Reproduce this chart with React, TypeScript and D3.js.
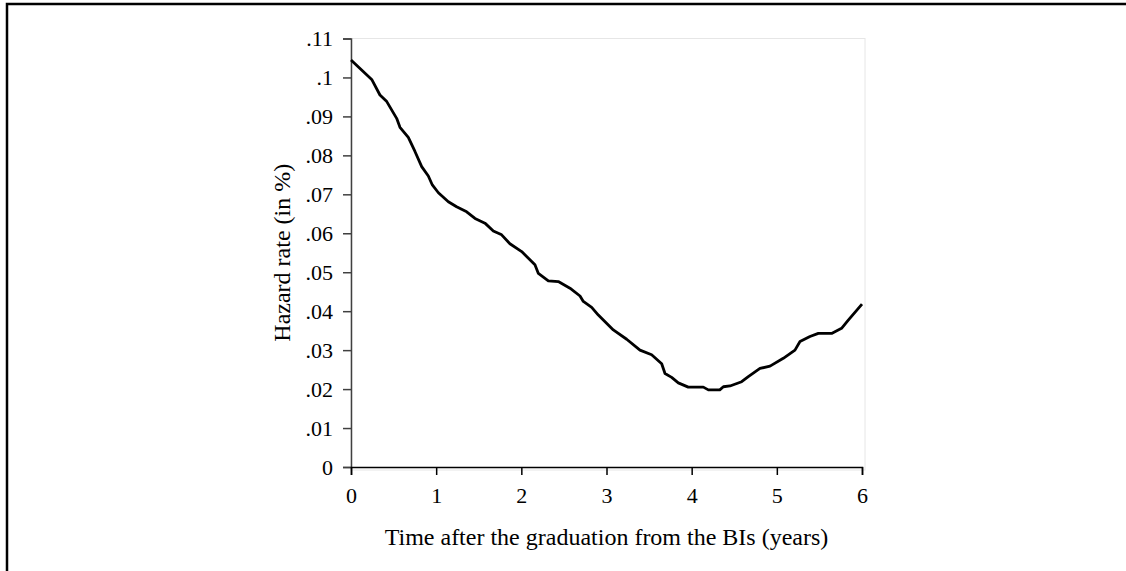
import React, { useRef, useEffect } from "react";
import * as d3 from "d3";

const WIDTH = 1126;
const HEIGHT = 571;
const PLOT = { left: 351, right: 862, top: 38.5, bottom: 467 };

// years after graduation
const TIME_YEARS = [
  0, 0.243, 0.34, 0.42, 0.536, 0.575, 0.673, 0.751, 0.83, 0.908, 0.955, 1.026,
  1.143, 1.24, 1.358, 1.456, 1.573, 1.671, 1.769, 1.866, 2.004, 2.16, 2.2,
  2.317, 2.434, 2.571, 2.689, 2.728, 2.826, 2.904, 3.08, 3.237, 3.393, 3.53,
  3.648, 3.687, 3.765, 3.843, 3.96, 4.137, 4.196, 4.33, 4.372, 4.45, 4.587,
  4.665, 4.802, 4.92, 5.076, 5.213, 5.272, 5.389, 5.487, 5.643, 5.76, 5.839, 6.0,
];

// hazard rate
const HAZARD_RATE = [
  0.1045, 0.0995, 0.0955, 0.0938, 0.0895, 0.0872, 0.0846, 0.081, 0.0771,
  0.0747, 0.0724, 0.0704, 0.0681, 0.0668, 0.0655, 0.0638, 0.0626, 0.0606,
  0.0596, 0.0573, 0.0553, 0.0519, 0.0497, 0.0478, 0.0476, 0.0459, 0.0439,
  0.0425, 0.041, 0.039, 0.0352, 0.0328, 0.03, 0.0288, 0.0265, 0.024, 0.023,
  0.0216, 0.0205, 0.0205, 0.0198, 0.0198, 0.0206, 0.0208, 0.0219, 0.0232,
  0.0253, 0.0259, 0.0279, 0.03, 0.0322, 0.0335, 0.0343, 0.0343, 0.0356,
  0.0377, 0.0418,
];

const X_TICKS = [0, 1, 2, 3, 4, 5, 6];
const Y_TICKS = [0, 0.01, 0.02, 0.03, 0.04, 0.05, 0.06, 0.07, 0.08, 0.09, 0.1, 0.11];
const Y_TICK_LABELS = ["0", ".01", ".02", ".03", ".04", ".05", ".06", ".07", ".08", ".09", ".1", ".11"];

const X_TITLE = "Time after the graduation from the BIs (years)";
const Y_TITLE = "Hazard rate (in %)";

const FONT = "'Liberation Serif', 'Times New Roman', serif";

export default function App() {
  const svgRef = useRef<SVGSVGElement | null>(null);

  useEffect(() => {
    const svg = d3.select(svgRef.current);
    svg.selectAll("*").remove();

    const x = d3.scaleLinear().domain([0, 6]).range([PLOT.left, PLOT.right]);
    const y = d3.scaleLinear().domain([0, 0.11]).range([PLOT.bottom, PLOT.top]);

    // outer frame (only top & left visible)
    svg
      .append("rect")
      .attr("x", 7)
      .attr("y", 4)
      .attr("width", 1300)
      .attr("height", 800)
      .attr("fill", "none")
      .attr("stroke", "#000")
      .attr("stroke-width", 2.5);

    // faint plot region frame
    svg
      .append("rect")
      .attr("x", PLOT.left)
      .attr("y", PLOT.top)
      .attr("width", PLOT.right + 3 - PLOT.left)
      .attr("height", PLOT.bottom + 3 - PLOT.top)
      .attr("fill", "none")
      .attr("stroke", "#e6e6e6")
      .attr("stroke-width", 1);

    // ── Y axis ──────────────────────────────────────────
    const yAxis = d3
      .axisLeft(y)
      .tickValues(Y_TICKS)
      .tickSize(8)
      .tickPadding(10)
      .tickFormat((_d, i) => Y_TICK_LABELS[i]);

    const gy = svg
      .append("g")
      .attr("transform", `translate(${PLOT.left},0)`)
      .call(yAxis);
    gy.select(".domain").attr("stroke", "#404040").attr("stroke-width", 1.5);
    gy.selectAll(".tick line").attr("stroke", "#404040").attr("stroke-width", 1.5);
    gy.selectAll("text")
      .attr("font-family", FONT)
      .attr("font-size", 22)
      .attr("fill", "#000");

    // ── X axis ──────────────────────────────────────────
    const xAxis = d3
      .axisBottom(x)
      .tickValues(X_TICKS)
      .tickSize(8)
      .tickPadding(12)
      .tickFormat(d3.format("d"));

    const gx = svg
      .append("g")
      .attr("transform", `translate(0,${PLOT.bottom})`)
      .call(xAxis);
    gx.select(".domain").attr("stroke", "#000").attr("stroke-width", 1.5);
    gx.selectAll(".tick line").attr("stroke", "#000").attr("stroke-width", 1.5);
    gx.selectAll("text")
      .attr("font-family", FONT)
      .attr("font-size", 22)
      .attr("fill", "#000");

    // ── Curve ───────────────────────────────────────────
    const points = TIME_YEARS.map((t, i) => [t, HAZARD_RATE[i]] as [number, number]);
    const line = d3
      .line<[number, number]>()
      .x((d) => x(d[0]))
      .y((d) => y(d[1]));

    svg
      .append("path")
      .datum(points)
      .attr("d", line)
      .attr("fill", "none")
      .attr("stroke", "#000")
      .attr("stroke-width", 2.8)
      .attr("stroke-linejoin", "round");

    // ── Axis titles ─────────────────────────────────────
    svg
      .append("text")
      .attr("x", (PLOT.left + PLOT.right) / 2)
      .attr("y", 545)
      .attr("text-anchor", "middle")
      .attr("font-family", FONT)
      .attr("font-size", 24)
      .attr("fill", "#000")
      .text(X_TITLE);

    svg
      .append("text")
      .attr("transform", `translate(290,${(PLOT.top + PLOT.bottom) / 2}) rotate(-90)`)
      .attr("text-anchor", "middle")
      .attr("font-family", FONT)
      .attr("font-size", 24)
      .attr("fill", "#000")
      .text(Y_TITLE);
  }, []);

  return (
    <svg
      ref={svgRef}
      width={WIDTH}
      height={HEIGHT}
      style={{ position: "absolute", left: 0, top: 0, background: "#fff" }}
    />
  );
}
